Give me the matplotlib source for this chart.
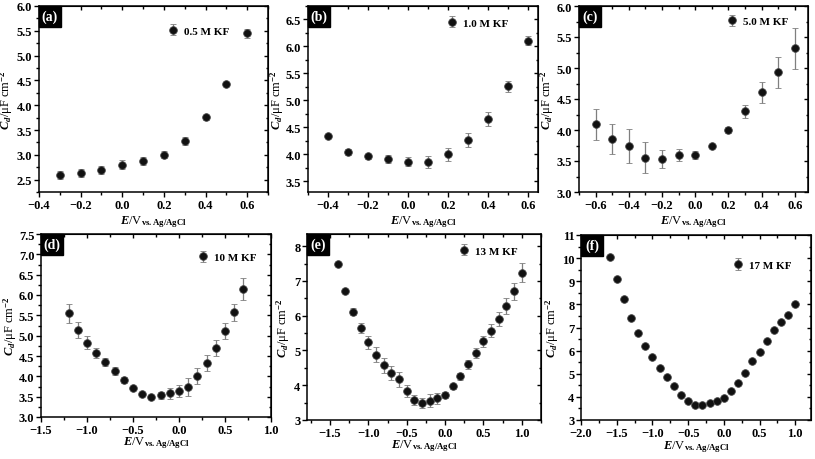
import matplotlib
matplotlib.use("Agg")
import matplotlib.pyplot as plt
from matplotlib.patches import Rectangle
from matplotlib.ticker import MultipleLocator, AutoMinorLocator

plt.rcParams['font.family'] = 'Liberation Serif'
plt.rcParams['font.weight'] = 'bold'
plt.rcParams['mathtext.fontset'] = 'custom'
plt.rcParams['mathtext.rm'] = 'Liberation Serif:bold'
plt.rcParams['mathtext.it'] = 'Liberation Serif:italic:bold'
plt.rcParams['mathtext.bf'] = 'Liberation Serif:bold'

# (a) 0.5 M KF
x_a = [-0.3, -0.2, -0.1, 0.0, 0.1, 0.2, 0.3, 0.4, 0.5, 0.6]
y_a = [2.60, 2.63, 2.70, 2.80, 2.87, 3.00, 3.27, 3.76, 4.42, 5.45]
e_a = [0.08, 0.08, 0.08, 0.09, 0.08, 0.07, 0.08, 0.05, 0.04, 0.09]

# (b) 1.0 M KF
x_b = [-0.4, -0.3, -0.2, -0.1, 0.0, 0.1, 0.2, 0.3, 0.4, 0.5, 0.6]
y_b = [4.33, 4.04, 3.96, 3.91, 3.86, 3.86, 4.00, 4.27, 4.65, 5.26, 6.11]
e_b = [0.02, 0.05, 0.04, 0.07, 0.08, 0.11, 0.12, 0.13, 0.13, 0.10, 0.08]

# (c) 5.0 M KF
x_c = [-0.6, -0.5, -0.4, -0.3, -0.2, -0.1, 0.0, 0.1, 0.2, 0.3, 0.4, 0.5, 0.6]
y_c = [4.09, 3.85, 3.74, 3.55, 3.53, 3.60, 3.60, 3.74, 4.00, 4.30, 4.61, 4.93, 5.32]
e_c = [0.25, 0.24, 0.28, 0.25, 0.15, 0.10, 0.06, 0.01, 0.05, 0.11, 0.17, 0.25, 0.33]

# (d) 10 M KF
x_d = [-1.2, -1.1, -1.0, -0.9, -0.8, -0.7, -0.6, -0.5, -0.4, -0.3,
       -0.2, -0.1, 0.0, 0.1, 0.2, 0.3, 0.4, 0.5, 0.6, 0.7]
y_d = [5.55, 5.14, 4.83, 4.57, 4.35, 4.14, 3.91, 3.71, 3.56, 3.50,
       3.53, 3.58, 3.63, 3.73, 4.00, 4.33, 4.70, 5.11, 5.57, 6.15]
e_d = [0.23, 0.20, 0.17, 0.12, 0.10, 0.10, 0.07, 0.03, 0.03, 0.05,
       0.08, 0.13, 0.15, 0.22, 0.20, 0.20, 0.20, 0.20, 0.22, 0.27]

# (e) 13 M KF
x_e = [-1.4, -1.3, -1.2, -1.1, -1.0, -0.9, -0.8, -0.7, -0.6, -0.5, -0.4, -0.3, -0.2,
       -0.1, 0.0, 0.1, 0.2, 0.3, 0.4, 0.5, 0.6, 0.7, 0.8, 0.9, 1.0]
y_e = [7.49, 6.71, 6.11, 5.65, 5.23, 4.88, 4.57, 4.35, 4.17, 3.83, 3.57, 3.49, 3.56,
       3.62, 3.72, 3.97, 4.26, 4.60, 4.93, 5.26, 5.57, 5.90, 6.28, 6.70, 7.24]
e_e = [0.03, 0.04, 0.10, 0.15, 0.20, 0.22, 0.22, 0.20, 0.22, 0.18, 0.15, 0.15, 0.20,
       0.15, 0.08, 0.07, 0.10, 0.12, 0.14, 0.15, 0.18, 0.20, 0.23, 0.25, 0.27]

# (f) 17 M KF
x_f = [-1.6, -1.5, -1.4, -1.3, -1.2, -1.1, -1.0, -0.9, -0.8, -0.7, -0.6, -0.5, -0.4, -0.3,
       -0.2, -0.1, 0.0, 0.1, 0.2, 0.3, 0.4, 0.5, 0.6, 0.7, 0.8, 0.9, 1.0]
y_f = [10.03, 9.11, 8.22, 7.40, 6.78, 6.20, 5.71, 5.25, 4.85, 4.48, 4.10, 3.81, 3.64, 3.64,
       3.74, 3.81, 3.96, 4.24, 4.62, 5.05, 5.57, 5.96, 6.40, 6.88, 7.24, 7.56, 8.00]
e_f = [0.05, 0.05, 0.05, 0.04, 0.03, 0.03, 0.03, 0.03, 0.03, 0.03, 0.03, 0.03, 0.03, 0.03,
       0.03, 0.03, 0.03, 0.03, 0.03, 0.03, 0.03, 0.03, 0.03, 0.03, 0.03, 0.03, 0.03]

panels = [
    # rect, x, y, err, label, tag, xlim, ylim, xmaj, ymaj, legend pos, ylabel x, xlabel y
    ([39, 7, 268, 193], x_a, y_a, e_a, '0.5 M KF', '(a)', (-0.4, 0.7), (2.25, 6.0), 0.2, 0.5, (0.59, 0.866), -0.142, -0.155),
    ([308, 7, 538, 193], x_b, y_b, e_b, '1.0 M KF', '(b)', (-0.5, 0.65), (3.3, 6.75), 0.2, 0.5, (0.629, 0.909), -0.135, -0.155),
    ([579, 7, 808, 193], x_c, y_c, e_c, '5.0 M KF', '(c)', (-0.7, 0.68), (3.0, 6.0), 0.2, 0.5, (0.672, 0.919), -0.14, -0.155),
    ([41, 235, 271, 418], x_d, y_d, e_d, '10 M KF', '(d)', (-1.5, 1.0), (3.0, 7.5), 0.5, 0.5, (0.709, 0.874), -0.135, -0.14),
    ([307, 235, 541, 421], x_e, y_e, e_e, '13 M KF', '(e)', (-1.8, 1.25), (3.0, 8.35), 0.5, 1.0, (0.675, 0.909), -0.1, -0.137),
    ([581, 236, 811, 421], x_f, y_f, e_f, '17 M KF', '(f)', (-2.0, 1.22), (3.0, 11.0), 0.5, 1.0, (0.687, 0.838), -0.125, -0.14),
]

W, H = 815, 460
fig = plt.figure(figsize=(W / 100, H / 100), dpi=100)

for rect, xs, ys, es, lab, tag, xl, yl, xm, ym, lp, ylx, xly in panels:
    x0, y0, x1, y1 = rect
    ax = fig.add_axes([x0 / W, (H - y1) / H, (x1 - x0) / W, (y1 - y0) / H])
    ax.errorbar(xs, ys, yerr=es, fmt='o', ms=5.5, mfc='#111111', mec='#444444', mew=0.6,
                ecolor='#7f7f7f', elinewidth=0.9, capsize=2, capthick=0.9, label=lab, zorder=3)
    ax.set_xlim(*xl)
    ax.set_ylim(*yl)
    ax.xaxis.set_major_locator(MultipleLocator(xm))
    ax.yaxis.set_major_locator(MultipleLocator(ym))
    ax.xaxis.set_minor_locator(AutoMinorLocator(2))
    ax.yaxis.set_minor_locator(AutoMinorLocator(2))
    ax.tick_params(which='both', direction='out', top=False, right=False, labelsize=9,
                   width=1, pad=1.2)
    ax.tick_params(which='major', length=3.5)
    ax.tick_params(which='minor', length=2)
    sec_x = ax.secondary_xaxis('top')
    sec_x.xaxis.set_major_locator(MultipleLocator(xm))
    sec_x.xaxis.set_minor_locator(AutoMinorLocator(2))
    sec_x.tick_params(which='both', direction='in', labeltop=False, width=1)
    sec_x.tick_params(which='major', length=3)
    sec_x.tick_params(which='minor', length=1.8)
    sec_y = ax.secondary_yaxis('right')
    sec_y.yaxis.set_major_locator(MultipleLocator(ym))
    sec_y.yaxis.set_minor_locator(AutoMinorLocator(2))
    sec_y.tick_params(which='both', direction='in', labelright=False, width=1)
    sec_y.tick_params(which='major', length=3)
    sec_y.tick_params(which='minor', length=1.8)
    for sp in ax.spines.values():
        sp.set_linewidth(1.1)
    ax.set_xlabel(r'$\mathit{E}$/V$_{\mathrm{vs.Ag/AgCl}}$', fontsize=9)
    ax.set_ylabel(r'$C_d$/μF cm$^{-2}$', fontsize=9)
    ax.xaxis.set_label_coords(0.5, xly)
    ax.xaxis.label.set_va('center')
    ax.yaxis.set_label_coords(ylx, 0.5)
    ax.yaxis.label.set_va('center')
    ax.legend(loc='center left', bbox_to_anchor=(lp[0] - 0.028, lp[1]), frameon=False,
              fontsize=8, handlelength=1.0, handletextpad=0.5, borderpad=0, borderaxespad=0)
    bw, bh = 22 / (x1 - x0), 21 / (y1 - y0)
    ax.add_patch(Rectangle((0, 1 - bh), bw, bh, transform=ax.transAxes, fc='black', ec='black',
                           zorder=5, clip_on=False))
    ax.text(bw / 2, 1 - bh / 2, tag, transform=ax.transAxes, color='white', fontsize=10,
            fontweight='bold', ha='center', va='center', zorder=6)

fig.savefig('out.png', dpi=100)
